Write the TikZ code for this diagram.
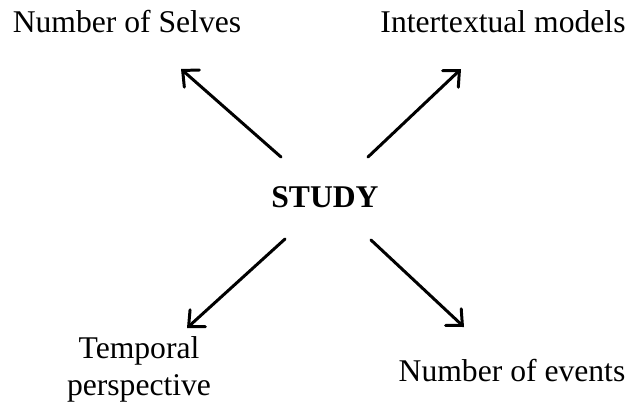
\documentclass[tikz,border=0pt]{standalone}
\usepackage{fontspec}
\setmainfont{Liberation Serif}
\usetikzlibrary{positioning,arrows.meta}

\tikzset{
  lbl/.style={font=\fontsize{18}{21}\selectfont, inner sep=0pt, align=center},
  arr/.style={line width=1.7pt, line cap=round, -{Straight Barb[length=7pt,width=13pt,line cap=round]}}
}

\begin{document}
\begin{tikzpicture}[x=0.02cm,y=-0.02cm]
    \useasboundingbox (0,0) rectangle (630,410);
    \node[lbl, font=\fontsize{18}{21}\selectfont\bfseries] (study) at (325,197) {STUDY};
    \node[lbl] (selves) at (127,22) {Number of Selves};
    \node[lbl] (models) at (503,22) {Intertextual models};
    \node[lbl] (temporal) at (139,369) {Temporal\\perspective};
    \node[lbl] (events) at (512,371) {Number of events};
    % arrow ends
    \coordinate (s1) at (281,157);
    \coordinate (t1) at (181,69);
    \coordinate (s2) at (368,157);
    \coordinate (t2) at (461,69);
    \coordinate (s3) at (285,239);
    \coordinate (t3) at (187,328);
    \coordinate (s4) at (371,240);
    \coordinate (t4) at (464,327);
    \draw[arr] (s1) -- (t1);
    \draw[arr] (s2) -- (t2);
    \draw[arr] (s3) -- (t3);
    \draw[arr] (s4) -- (t4);
\end{tikzpicture}
\end{document}
